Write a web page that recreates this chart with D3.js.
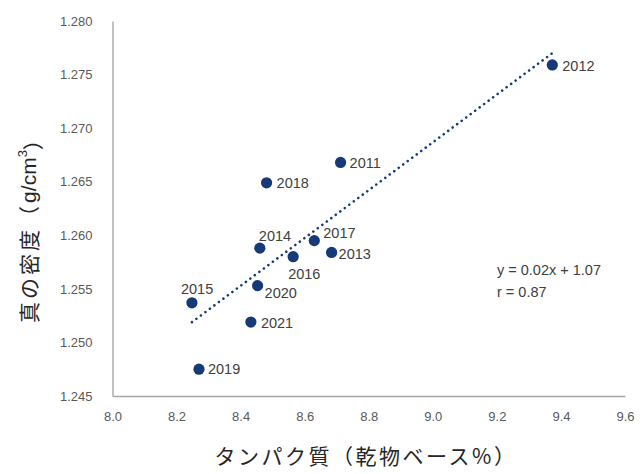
<!DOCTYPE html>
<html lang="ja">
<head>
<meta charset="utf-8">
<script src="https://cdn.jsdelivr.net/npm/d3@7"></script>
<style>
  html, body { margin: 0; padding: 0; background: #ffffff; }
  svg { display: block; }
</style>
</head>
<body>
<svg id="chart" width="641" height="474"></svg>
<script>
// Harvest years with protein content (dry basis %) and true density (g/cm3)
const years   = ["2011", "2012", "2013", "2014", "2015", "2016", "2017", "2018", "2019", "2020", "2021"];
const protein = [8.712, 9.373, 8.684, 8.460, 8.248, 8.564, 8.630, 8.481, 8.270, 8.453, 8.432];
const density = [1.2668, 1.2759, 1.2584, 1.2588, 1.2537, 1.2580, 1.2595, 1.2649, 1.2475, 1.2553, 1.2519];

const xTicks = [8.0, 8.2, 8.4, 8.6, 8.8, 9.0, 9.2, 9.4, 9.6];
const yTicks = [1.245, 1.250, 1.255, 1.260, 1.265, 1.270, 1.275, 1.280];

const xTitle = "タンパク質（乾物ベース%）";
const yTitleMain = "真の密度（";
const yTitleUnit = "g/cm";
const yTitleSup = "3";
const yTitleEnd = "）";

// Where each year label sits relative to its marker (dx, dy in px)
const labelOffset = {
  "2011": [9, 1], "2012": [10, 1], "2013": [7, 2], "2014": [-1, -12],
  "2015": [-11, -14], "2016": [-5, 17], "2017": [9, -8], "2018": [10, 0],
  "2019": [9, 0], "2020": [7, 7], "2021": [10, 1]
};

const svg = d3.select("#chart");
const x = d3.scaleLinear().domain([8.0, 9.6]).range([112.5, 625]);
const y = d3.scaleLinear().domain([1.245, 1.280]).range([396, 21]);

const latin = "'Liberation Sans', Arial, sans-serif";
const cjk = "'Noto Sans CJK JP', 'Liberation Sans', sans-serif";
const navy = "#163a78";

// Axes: plain grey lines, no tick marks
const yAxis = svg.append("g")
  .attr("transform", `translate(${x(8.0)},0)`)
  .call(d3.axisLeft(y).tickValues(yTicks).tickFormat(d3.format(".3f")).tickSize(0).tickPadding(20));
const xAxis = svg.append("g")
  .attr("transform", `translate(0,${y(1.245)})`)
  .call(d3.axisBottom(x).tickValues(xTicks).tickFormat(d3.format(".1f")).tickSize(0).tickPadding(16));

[xAxis, yAxis].forEach(g => {
  g.select(".domain").attr("stroke", "#a6a6a6").attr("stroke-width", 1.4);
  g.selectAll("text").attr("fill", "#595959").style("font-family", latin).style("font-size", "13px");
});

// Least-squares trend line through the points
const n = years.length;
const mx = d3.mean(protein), my = d3.mean(density);
let sxy = 0, sxx = 0, syy = 0;
for (let i = 0; i < n; i++) {
  sxy += (protein[i] - mx) * (density[i] - my);
  sxx += (protein[i] - mx) ** 2;
  syy += (density[i] - my) ** 2;
}
const slope = sxy / sxx;
const intercept = my - slope * mx;
const r = sxy / Math.sqrt(sxx * syy);
const [x0, x1] = d3.extent(protein);

svg.append("line")
  .attr("x1", x(x0)).attr("y1", y(intercept + slope * x0))
  .attr("x2", x(x1)).attr("y2", y(intercept + slope * x1))
  .attr("stroke", navy)
  .attr("stroke-width", 2.6)
  .attr("stroke-linecap", "round")
  .attr("stroke-dasharray", "0.01 5.6");

// Markers
const pts = years.map((yr, i) => ({ yr, px: protein[i], dy: density[i] }));
svg.append("g").selectAll("circle")
  .data(pts).join("circle")
  .attr("cx", d => x(d.px))
  .attr("cy", d => y(d.dy))
  .attr("r", 5.6)
  .attr("fill", navy);

// Year labels
svg.append("g").selectAll("text")
  .data(pts).join("text")
  .attr("x", d => x(d.px) + labelOffset[d.yr][0])
  .attr("y", d => y(d.dy) + labelOffset[d.yr][1])
  .attr("dominant-baseline", "central")
  .attr("fill", "#404040")
  .style("font-family", latin)
  .style("font-size", "14.5px")
  .text(d => d.yr);

// Regression equation and correlation
const eq = svg.append("text")
  .attr("fill", "#404040")
  .style("font-family", latin)
  .style("font-size", "14.5px");
eq.append("tspan").attr("x", 497).attr("y", 275)
  .text(`y = ${d3.format(".2f")(slope)}x + ${d3.format(".2f")(intercept)}`);
eq.append("tspan").attr("x", 497).attr("y", 297)
  .text(`r = ${d3.format(".2f")(r)}`);

// Axis titles
svg.append("text")
  .attr("x", 366).attr("y", 455)
  .attr("text-anchor", "middle")
  .attr("dominant-baseline", "central")
  .attr("fill", "#262626")
  .style("font-family", cjk)
  .style("font-size", "21px")
  .style("letter-spacing", "2.5px")
  .text(xTitle);

const yt = svg.append("text")
  .attr("transform", "translate(28,226) rotate(-90)")
  .attr("text-anchor", "middle")
  .attr("dominant-baseline", "central")
  .attr("fill", "#262626")
  .style("font-family", cjk)
  .style("font-size", "21px");
yt.append("tspan").style("letter-spacing", "3px").text(yTitleMain);
yt.append("tspan").style("font-family", latin).text(yTitleUnit);
yt.append("tspan").attr("dy", "-0.45em").style("font-family", latin).style("font-size", "13px").text(yTitleSup);
yt.append("tspan").attr("dy", "0.45em").text(yTitleEnd);
</script>
</body>
</html>
